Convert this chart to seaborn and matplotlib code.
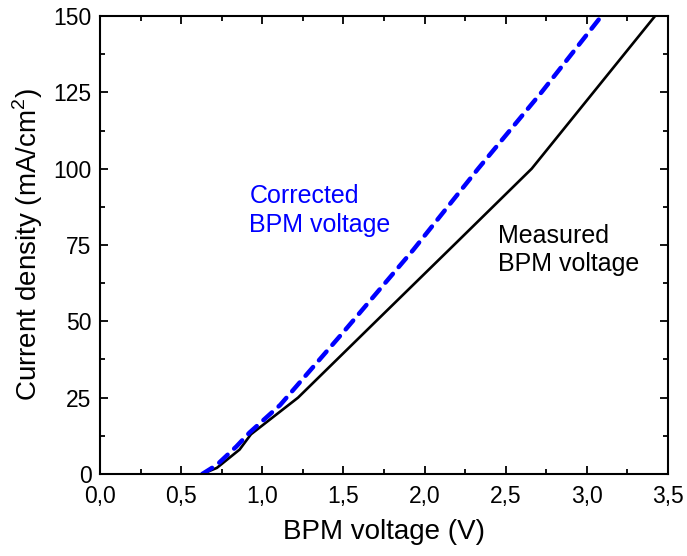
import matplotlib
matplotlib.use("Agg")
import matplotlib.pyplot as plt
import seaborn as sns
import pandas as pd
from matplotlib.ticker import FuncFormatter, MultipleLocator

sns.set_theme(style="ticks")
plt.rcParams['font.family'] = ['Liberation Sans', 'DejaVu Sans']
plt.rcParams['mathtext.fontset'] = 'custom'
plt.rcParams['mathtext.rm'] = 'Liberation Sans'

measured_v = [0.63, 0.72, 0.86, 0.93, 1.22, 1.70, 2.20, 2.66, 3.04, 3.42]
measured_j = [0.0, 2.0, 8.0, 13.0, 25.0, 50.0, 76.0, 100.0, 125.0, 150.0]
corrected_v = [0.63, 0.72, 0.84, 0.92, 1.11, 1.50, 1.93, 2.33, 2.72, 3.09]
corrected_j = [0.0, 3.0, 9.0, 13.5, 22.6, 46.5, 73.4, 100.0, 125.0, 150.0]

df_m = pd.DataFrame({"v": measured_v, "j": measured_j})
df_c = pd.DataFrame({"v": corrected_v, "j": corrected_j})

fig = plt.figure(figsize=(6.87, 5.56), dpi=100)
ax = fig.add_axes([0.1456, 0.1475, 0.9724 - 0.1456, 0.9712 - 0.1475])

sns.lineplot(data=df_m, x="v", y="j", ax=ax, color="black", linewidth=1.9,
             sort=False, estimator=None)
sns.lineplot(data=df_c, x="v", y="j", ax=ax, color="#0000ff", linewidth=3.2,
             sort=False, estimator=None, dashes=False)
ax.lines[1].set_dashes([2.6, 2.0])
ax.lines[1].set_dash_capstyle('round')

ax.set_xlim(0, 3.5)
ax.set_ylim(0, 150)
ax.xaxis.set_major_locator(MultipleLocator(0.5))
ax.xaxis.set_minor_locator(MultipleLocator(0.25))
ax.yaxis.set_major_locator(MultipleLocator(25))
ax.yaxis.set_minor_locator(MultipleLocator(12.5))
ax.xaxis.set_major_formatter(FuncFormatter(lambda x, p: f"{x:.1f}".replace('.', ',')))
ax.yaxis.set_major_formatter(FuncFormatter(lambda y, p: f"{y:.0f}"))

ax.tick_params(which='both', direction='in', top=True, right=True, width=1.3,
               labelsize=16.5, color='black', labelcolor='black')
ax.tick_params(which='major', length=6)
ax.tick_params(axis='x', which='major', pad=8)
ax.tick_params(axis='y', which='major', pad=6)
ax.tick_params(which='minor', length=3.5)
for s in ax.spines.values():
    s.set_linewidth(1.5)
    s.set_color('black')

ax.set_xlabel("BPM voltage (V)", fontsize=20, labelpad=8, color='black')
ax.set_ylabel("Current density (mA/cm$^2$)", fontsize=20, labelpad=6, color='black')

ax.text(0.92, 95, "Corrected\nBPM voltage", color="#0000ff", fontsize=18,
        va='top', ha='left', linespacing=1.25)
ax.text(2.45, 82, "Measured\nBPM voltage", color="black", fontsize=18,
        va='top', ha='left', linespacing=1.25)

fig.savefig("out.png", dpi=100)
